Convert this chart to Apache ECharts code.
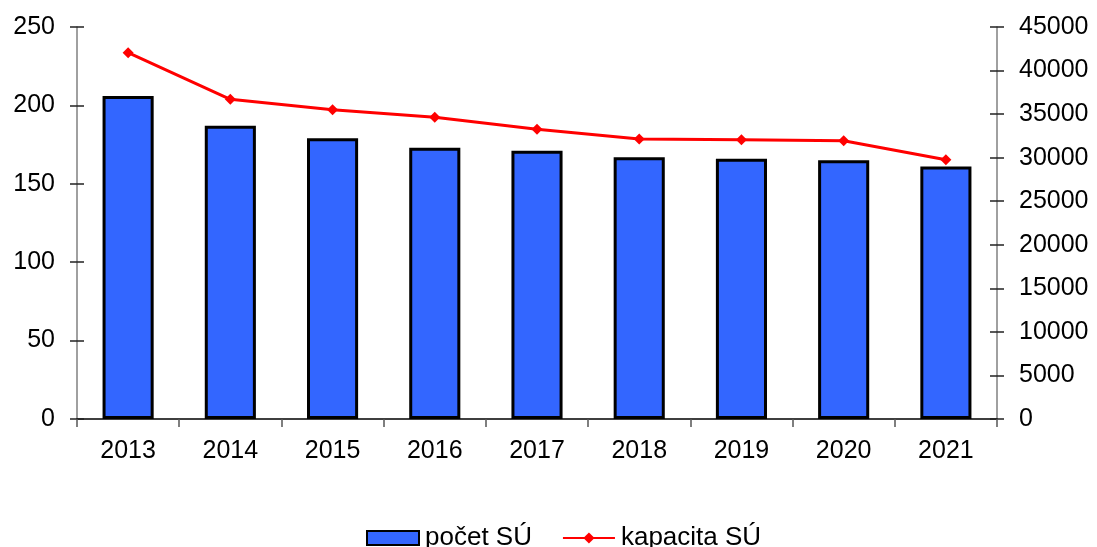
<!DOCTYPE html>
<html>
<head>
<meta charset="utf-8">
<script src="https://cdn.jsdelivr.net/npm/echarts@6/dist/echarts.min.js"></script>
<style>
html, body { margin: 0; padding: 0; background: #fff; }
#chart { width: 1097px; height: 547px; }
</style>
</head>
<body>
<div id="chart"></div>
<script>
var years = ['2013', '2014', '2015', '2016', '2017', '2018', '2019', '2020', '2021'];
var pocetSU = [206, 187, 179, 173, 171, 167, 166, 165, 161];
var kapacitaSU = [42050, 36700, 35500, 34650, 33250, 32150, 32050, 31950, 29750];

var chart = echarts.init(document.getElementById('chart'));

var font = 'Liberation Sans, Arial, sans-serif';

// left / right value axes; the second copy draws the inner half of each tick
function valueAxis(pos, max, interval, inner) {
    return {
        type: 'value',
        position: pos,
        min: 0,
        max: max,
        interval: interval,
        splitLine: { show: false },
        axisLine: { show: !inner, lineStyle: { color: '#808080', width: 1.5 } },
        axisTick: { show: true, inside: inner, length: 7, lineStyle: { color: '#222', width: 1.5 } },
        axisLabel: {
            show: !inner,
            color: '#000',
            fontSize: 25,
            fontFamily: font,
            margin: 22,
            formatter: function (v) { return String(v); }
        }
    };
}

var option = {
    animation: false,
    grid: { left: 77, right: 100, top: 27, bottom: 128 },
    legend: {
        top: 520,
        left: 361,
        itemGap: 30,
        itemWidth: 52,
        itemHeight: 14,
        textStyle: { color: '#000', fontSize: 26, fontFamily: font, padding: [0, 0, 0, 1] },
        data: [
            { name: 'počet SÚ', icon: 'rect' },
            { name: 'kapacita SÚ' }
        ]
    },
    xAxis: {
        type: 'category',
        data: years,
        axisLine: { lineStyle: { color: '#000', width: 1.5 } },
        axisTick: { show: true, length: 8, lineStyle: { color: '#555', width: 1.5 } },
        axisLabel: { color: '#000', fontSize: 25, fontFamily: font, margin: 20 }
    },
    yAxis: [
        valueAxis('left', 250, 50, false),
        valueAxis('right', 45000, 5000, false),
        valueAxis('left', 250, 50, true),
        valueAxis('right', 45000, 5000, true)
    ],
    series: [
        {
            name: 'počet SÚ',
            type: 'bar',
            yAxisIndex: 0,
            barWidth: '50%',
            data: pocetSU,
            itemStyle: { color: '#3366FF', borderColor: '#000', borderWidth: 3 }
        },
        {
            name: 'kapacita SÚ',
            type: 'line',
            yAxisIndex: 1,
            data: kapacitaSU,
            symbol: 'diamond',
            symbolSize: 11,
            lineStyle: { color: '#FF0000', width: 3 },
            itemStyle: { color: '#FF0000' }
        }
    ]
};

chart.setOption(option);
</script>
</body>
</html>
